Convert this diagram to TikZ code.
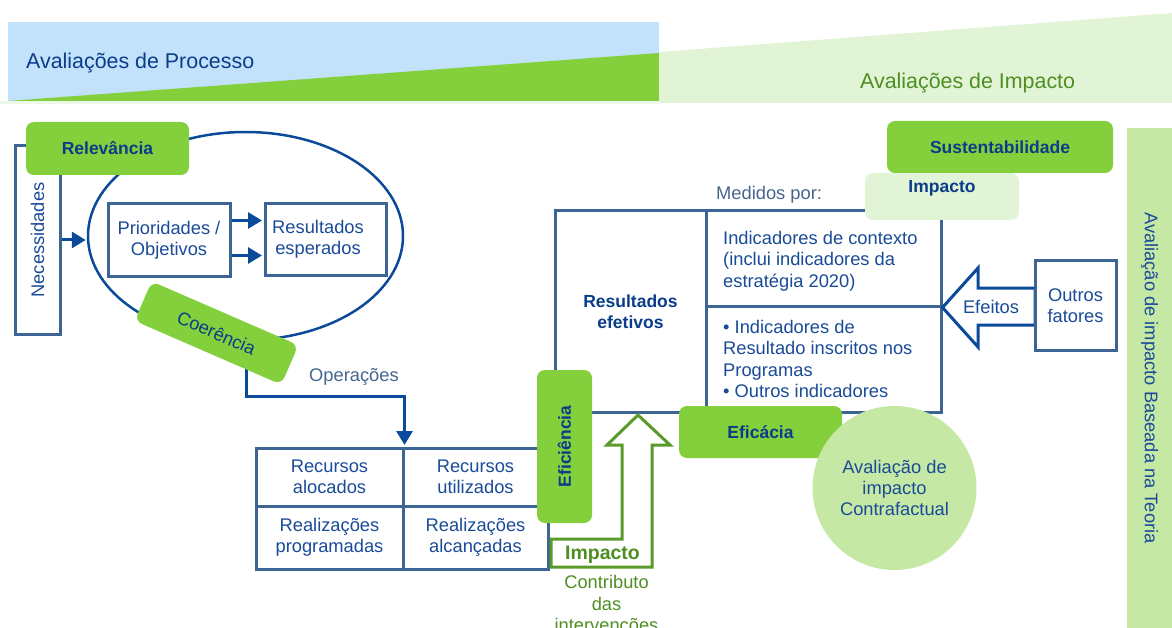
\documentclass[tikz,border=0pt]{standalone}
\usepackage{graphicx}
\usepackage{fontspec}
\setmainfont{Liberation Sans}
\usetikzlibrary{shapes.geometric,arrows.meta,calc}
\definecolor{dblue}{HTML}{0B4A9A}
\definecolor{lblue}{HTML}{1A4B98}
\definecolor{bblue}{HTML}{0B3C8A}
\definecolor{steel}{HTML}{3D6594}
\definecolor{stext}{HTML}{46658F}
\definecolor{gbox}{HTML}{84D03C}
\definecolor{lgreen}{HTML}{C5E8A5}
\definecolor{pgreen}{HTML}{E2F4D6}
\definecolor{skyb}{HTML}{C2E2FB}
\definecolor{dgreen}{HTML}{5A9A2A}
\definecolor{tgreen}{HTML}{4E8E22}
\newcommand\fsreg{\fontsize{18.3}{21.3}\selectfont}
\newcommand\fsbold{\fontsize{17.5}{21}\selectfont\bfseries}
\newcommand\fsban{\fontsize{21.4}{25}\selectfont}
\newcommand\fsimp{\fontsize{19.5}{23}\selectfont\bfseries}
\begin{document}
\begin{tikzpicture}[x=1pt,y=-1pt,
  cell/.style={draw=steel,line width=3pt,rectangle,inner sep=0pt,fill=white},
  lab/.style={fill=gbox,rounded corners=8pt,text=bblue,font=\fsbold,inner sep=0pt},
  txt/.style={text=lblue,font=\fsreg,align=center,inner sep=0pt},
  arr/.style={draw=dblue,line width=3pt,-{Triangle[length=14pt,width=16pt]}},
  hollow/.style={line width=3pt,fill=white,line join=miter},
]
\useasboundingbox (0,0) rectangle (1172,628);
% banner
\fill[skyb] (8,22) rectangle (659,101);
\fill[gbox] (8,101) -- (659,53) -- (659,101) -- cycle;
\fill[pgreen] (659,52) -- (1172,13) -- (1172,103) -- (659,103) -- cycle;
\fill[pgreen!60!white] (0,101.5) rectangle (659,104);
\node[anchor=base west,font=\fsban,text=bblue,inner sep=0pt] (tproc) at (26,69) {Avaliações de Processo};
\node[anchor=base west,font=\fsban,text=tgreen,inner sep=0pt] (timp) at (860,89) {Avaliações de Impacto};
% right band
\node[fill=lgreen,minimum width=45pt,minimum height=500pt,txt] (band) at (1149.5,378) {\rotatebox{-90}{Avaliação de impacto Baseada na Teoria}};
% left part
\node[cell,txt,minimum width=45pt,minimum height=188pt] (nec) at (37.5,240) {\rotatebox{90}{Necessidades}};
\node[ellipse,draw=dblue,line width=2.5pt,minimum width=315pt,minimum height=208pt,inner sep=0pt] (ell) at (245.5,236) {};
\node[cell,txt,minimum width=122pt,minimum height=73pt] (prio) at (169,240.5) {Prioridades /\\Objetivos};
\node[cell,minimum width=121pt,minimum height=72pt] (res) at (325.5,239.5) {};
\node[txt] (rest) at (318,239.5) {Resultados\\esperados};
\draw[arr,shorten >=1pt] (nec.east) -- (nec.east -| ell.west);
\draw[arr,shorten >=1.5pt] ([yshift=20pt]prio.east) -- ([yshift=20pt]prio.east -| res.west);
\draw[arr,shorten >=1.5pt] ([yshift=-15pt]prio.east) -- ([yshift=-15pt]prio.east -| res.west);
\node[lab,minimum width=163pt,minimum height=53pt] (rel) at (107.5,148.5) {Relevância};
% table
\node[cell,txt,minimum width=147pt,minimum height=58pt] (ra) at (329.5,477) {Recursos\\alocados};
\node[cell,txt,minimum width=145pt,minimum height=58pt] (ru) at (475.5,477) {Recursos\\utilizados};
\node[cell,txt,minimum width=147pt,minimum height=63pt] (rp) at (329.5,537.5) {Realizações\\programadas};
\node[cell,txt,minimum width=145pt,minimum height=63pt] (rc) at (475.5,537.5) {Realizações\\alcançadas};
% operacoes
\coordinate (opS) at (246,345);
\coordinate (opK) at (246,396);
\draw[arr,shorten >=1.5pt] (opS) -- (opK) -| (ra.north east);
\node[anchor=base west,font=\fsreg,text=stext,inner sep=0pt] (ops) at (309,381) {Operações};
\node[lab,font=\fsreg,rotate=-23.5,minimum width=160pt,minimum height=43pt] (coer) at (216.5,333) {Coerência};
% big box
\node[cell,font=\fsbold,text=bblue,align=center,minimum width=151pt,minimum height=201pt] (resl) at (630.5,311.5) {Resultados\\efetivos};
\node[cell,minimum width=235pt,minimum height=95pt] (ctx) at (823.5,258.5) {};
\node[cell,minimum width=235pt,minimum height=106pt] (ind) at (823.5,359) {};
\node[txt,align=left,anchor=west] (ctxt) at (723,261) {Indicadores de contexto\\(inclui indicadores da\\estratégia 2020)};
\node[txt,align=left,anchor=west] (indt) at (723,359) {• Indicadores de\\Resultado inscritos nos\\Programas\\• Outros indicadores};
\node[anchor=base west,font=\fsreg,text=stext,inner sep=0pt] (med) at (716,200) {Medidos por:};
% impacto green arrow
\draw[hollow,draw=dgreen] (551,539) -- (622,539) -- (622,445) -- (607,445) -- (638,415) -- (670,445) -- (652,445) -- (652,567) -- (551,567) -- cycle;
\node[font=\fsimp,text=tgreen,anchor=base,inner sep=0pt] (impg) at (602.5,559) {Impacto};
\node[font=\fsreg,text=tgreen,align=center,anchor=north,inner sep=0pt] (contr) at (606.5,575.5) {Contributo\\das\\intervenções};
\node[lab,minimum width=55pt,minimum height=153pt] (efi) at (564.5,446.5) {\rotatebox{90}{Eficiência}};
% eficacia + circle
\node[lab,minimum width=163pt,minimum height=52pt] (efc) at (760.5,432) {Eficácia};
\node[circle,fill=lgreen,minimum size=164pt,txt] (cf) at (894.5,488) {Avaliação de\\impacto\\Contrafactual};
% efeitos
\draw[hollow,draw=dblue] (ctx.south east) -- (978,268) -- (978,288) -- (1035,288) -- (1035,325) -- (978,325) -- (978,347) -- cycle;
\node[txt] (efe) at (991,307) {Efeitos};
\node[cell,txt,minimum width=81pt,minimum height=89pt] (out) at (1075.5,305.5) {Outros\\fatores};
% top right labels
\node[fill=pgreen,rounded corners=8pt,minimum width=154pt,minimum height=47pt,inner sep=0pt] (imp) at (942,196.5) {};
\node[font=\fsbold,text=bblue,inner sep=0pt] (impt) at (942,188) {Impacto};
\node[lab,minimum width=226pt,minimum height=52pt] (sus) at (1000,147) {Sustentabilidade};
\end{tikzpicture}
\end{document}
